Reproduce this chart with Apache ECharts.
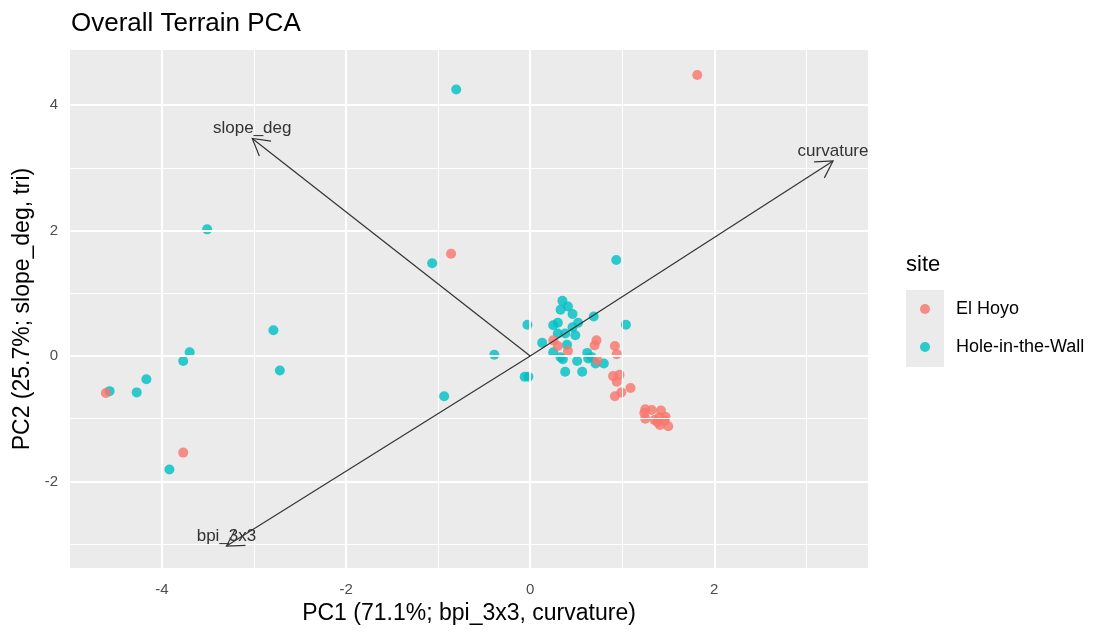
<!DOCTYPE html>
<html>
<head>
  <meta charset="utf-8">
  <title>Overall Terrain PCA</title>
  <script src="https://cdn.jsdelivr.net/npm/echarts@6/dist/echarts.min.js"></script>
</head>
<body style="margin:0">
<div id="main" style="width:1120px;height:640px"></div>
<script type="text/javascript">
  // scores per site: [PC1, PC2]
  var elHoyo = [
    [1.815, 4.48], [-0.86, 1.63], [-4.61, -0.59], [-3.77, -1.54],
    [0.25, 0.25], [0.30, 0.16], [0.41, 0.08], [0.72, 0.25], [0.70, 0.17],
    [0.92, 0.16], [0.94, 0.03], [0.73, -0.07], [0.90, -0.32], [0.97, -0.30],
    [0.94, -0.41], [1.09, -0.51], [0.99, -0.58], [0.92, -0.64],
    [1.25, -0.85], [1.32, -0.86], [1.24, -0.91], [1.25, -1.00], [1.42, -0.87],
    [1.47, -0.97], [1.40, -0.98], [1.38, -1.05], [1.41, -1.10], [1.50, -1.12],
    [1.46, -1.03], [1.35, -1.02]
  ];
  var holeInTheWall = [
    [-0.804, 4.25], [-3.51, 2.02], [-1.065, 1.48], [0.935, 1.53], [-2.79, 0.41],
    [-3.70, 0.06], [-3.77, -0.08], [-2.72, -0.23], [-4.57, -0.56], [-4.275, -0.58],
    [-4.17, -0.37], [-3.92, -1.81], [-0.39, 0.02], [-0.935, -0.64], [-0.03, 0.50],
    [-0.06, -0.33], [-0.02, -0.33], [0.35, 0.88], [0.41, 0.79], [0.33, 0.74],
    [0.46, 0.67], [0.69, 0.63], [1.04, 0.50], [0.25, 0.49], [0.30, 0.53],
    [0.52, 0.53], [0.46, 0.46], [0.30, 0.36], [0.38, 0.36], [0.49, 0.33],
    [0.13, 0.21], [0.40, 0.18], [0.25, 0.06], [0.33, -0.02], [0.355, -0.05],
    [0.62, 0.05], [0.63, -0.04], [0.51, -0.08], [0.71, -0.12], [0.80, -0.12],
    [0.67, -0.02], [0.38, -0.25], [0.565, -0.25]
  ];
  // loading arrows
  var loadingNames = ['slope_deg', 'curvature', 'bpi_3x3'];
  var loadingX = [-3.02, 3.29, -3.30];
  var loadingY = [3.47, 3.11, -3.03];

  var xMajor = [-4, -2, 0, 2];
  var xMinor = [-3, -1, 1, 3];
  var yMajor = [-2, 0, 2, 4];
  var yMinor = [-3, -1, 1, 3];

  var gridLines = [];
  xMajor.forEach(function (v) { gridLines.push({ xAxis: v, lineStyle: { width: 2 } }); });
  xMinor.forEach(function (v) { gridLines.push({ xAxis: v, lineStyle: { width: 1 } }); });
  yMajor.forEach(function (v) { gridLines.push({ yAxis: v, lineStyle: { width: 2 } }); });
  yMinor.forEach(function (v) { gridLines.push({ yAxis: v, lineStyle: { width: 1 } }); });

  var loadings = loadingNames.map(function (n, i) { return [loadingX[i], loadingY[i], n]; });

  var font = '"Liberation Sans", Arial, sans-serif';

  var myChart = echarts.init(document.getElementById('main'));
  var option = {
    animation: false,
    textStyle: { fontFamily: font },
    title: {
      text: 'Overall Terrain PCA',
      left: 66, top: 6,
      textStyle: { fontSize: 26, fontWeight: 'normal', color: '#000', fontFamily: font }
    },
    grid: {
      left: 70, right: 252, top: 50, bottom: 72,
      show: true, backgroundColor: '#EBEBEB', borderWidth: 0
    },
    xAxis: {
      type: 'value', min: -5.0, max: 3.67,
      name: 'PC1 (71.1%; bpi_3x3, curvature)',
      nameLocation: 'middle', nameGap: 33,
      nameTextStyle: { fontSize: 23, color: '#000', fontFamily: font },
      axisLine: { show: false },
      axisTick: { show: true, customValues: xMajor, length: 4, lineStyle: { color: '#333' } },
      axisLabel: { customValues: xMajor, color: '#4D4D4D', fontSize: 15, margin: 14 },
      splitLine: { show: false }
    },
    yAxis: {
      type: 'value', min: -3.38, max: 4.88,
      name: 'PC2 (25.7%; slope_deg, tri)',
      nameLocation: 'middle', nameGap: 36, nameRotate: 90,
      nameTextStyle: { fontSize: 23, color: '#000', fontFamily: font },
      axisLine: { show: false },
      axisTick: { show: true, customValues: yMajor, length: 4, lineStyle: { color: '#333' } },
      axisLabel: { customValues: yMajor, color: '#4D4D4D', fontSize: 15, margin: 12 },
      splitLine: { show: false }
    },
    legend: {
      orient: 'vertical', left: 915, top: 295,
      itemWidth: 10, itemHeight: 10, itemGap: 20,
      icon: 'circle',
      data: ['El Hoyo', 'Hole-in-the-Wall'],
      textStyle: { fontSize: 18, color: '#000', padding: [0, 0, 0, 21], fontFamily: font }
    },
    graphic: [
      { type: 'text', left: 906, top: 254, style: { text: 'site', fill: '#000', font: '22px ' + font } },
      { type: 'rect', left: 906, top: 290, z: -1, shape: { width: 38, height: 77 }, style: { fill: '#EBEBEB' } }
    ],
    series: [
      {
        type: 'line', data: [], silent: true, z: 1,
        markLine: {
          silent: true, symbol: 'none', animation: false,
          label: { show: false },
          lineStyle: { color: '#fff', type: 'solid' },
          emphasis: { disabled: true },
          data: gridLines
        }
      },
      {
        name: 'Hole-in-the-Wall', type: 'scatter', data: holeInTheWall, z: 3,
        symbolSize: 10,
        itemStyle: { color: '#00BFC4', opacity: 0.82 }
      },
      {
        name: 'El Hoyo', type: 'scatter', data: elHoyo, z: 4,
        symbolSize: 10,
        itemStyle: { color: '#F8766D', opacity: 0.82 }
      },
      {
        type: 'custom', data: loadings, z: 5, silent: true, clip: false,
        renderItem: function (params, api) {
          var p0 = api.coord([0, 0]);
          var p1 = api.coord([api.value(0), api.value(1)]);
          var ang = Math.atan2(p1[1] - p0[1], p1[0] - p0[0]);
          var len = 19, spread = Math.PI / 6;
          var a1 = [p1[0] - len * Math.cos(ang - spread), p1[1] - len * Math.sin(ang - spread)];
          var a2 = [p1[0] - len * Math.cos(ang + spread), p1[1] - len * Math.sin(ang + spread)];
          var stroke = { stroke: '#333', lineWidth: 1.2, fill: null };
          return {
            type: 'group',
            children: [
              { type: 'line', shape: { x1: p0[0], y1: p0[1], x2: p1[0], y2: p1[1] }, style: stroke },
              { type: 'polyline', shape: { points: [a1, p1, a2] }, style: stroke },
              {
                type: 'text', x: p1[0], y: p1[1] - 10,
                style: {
                  text: api.value(2), fill: '#333', font: '17px ' + font,
                  align: 'center', verticalAlign: 'middle'
                }
              }
            ]
          };
        }
      }
    ]
  };
  myChart.setOption(option);
</script>
</body>
</html>
